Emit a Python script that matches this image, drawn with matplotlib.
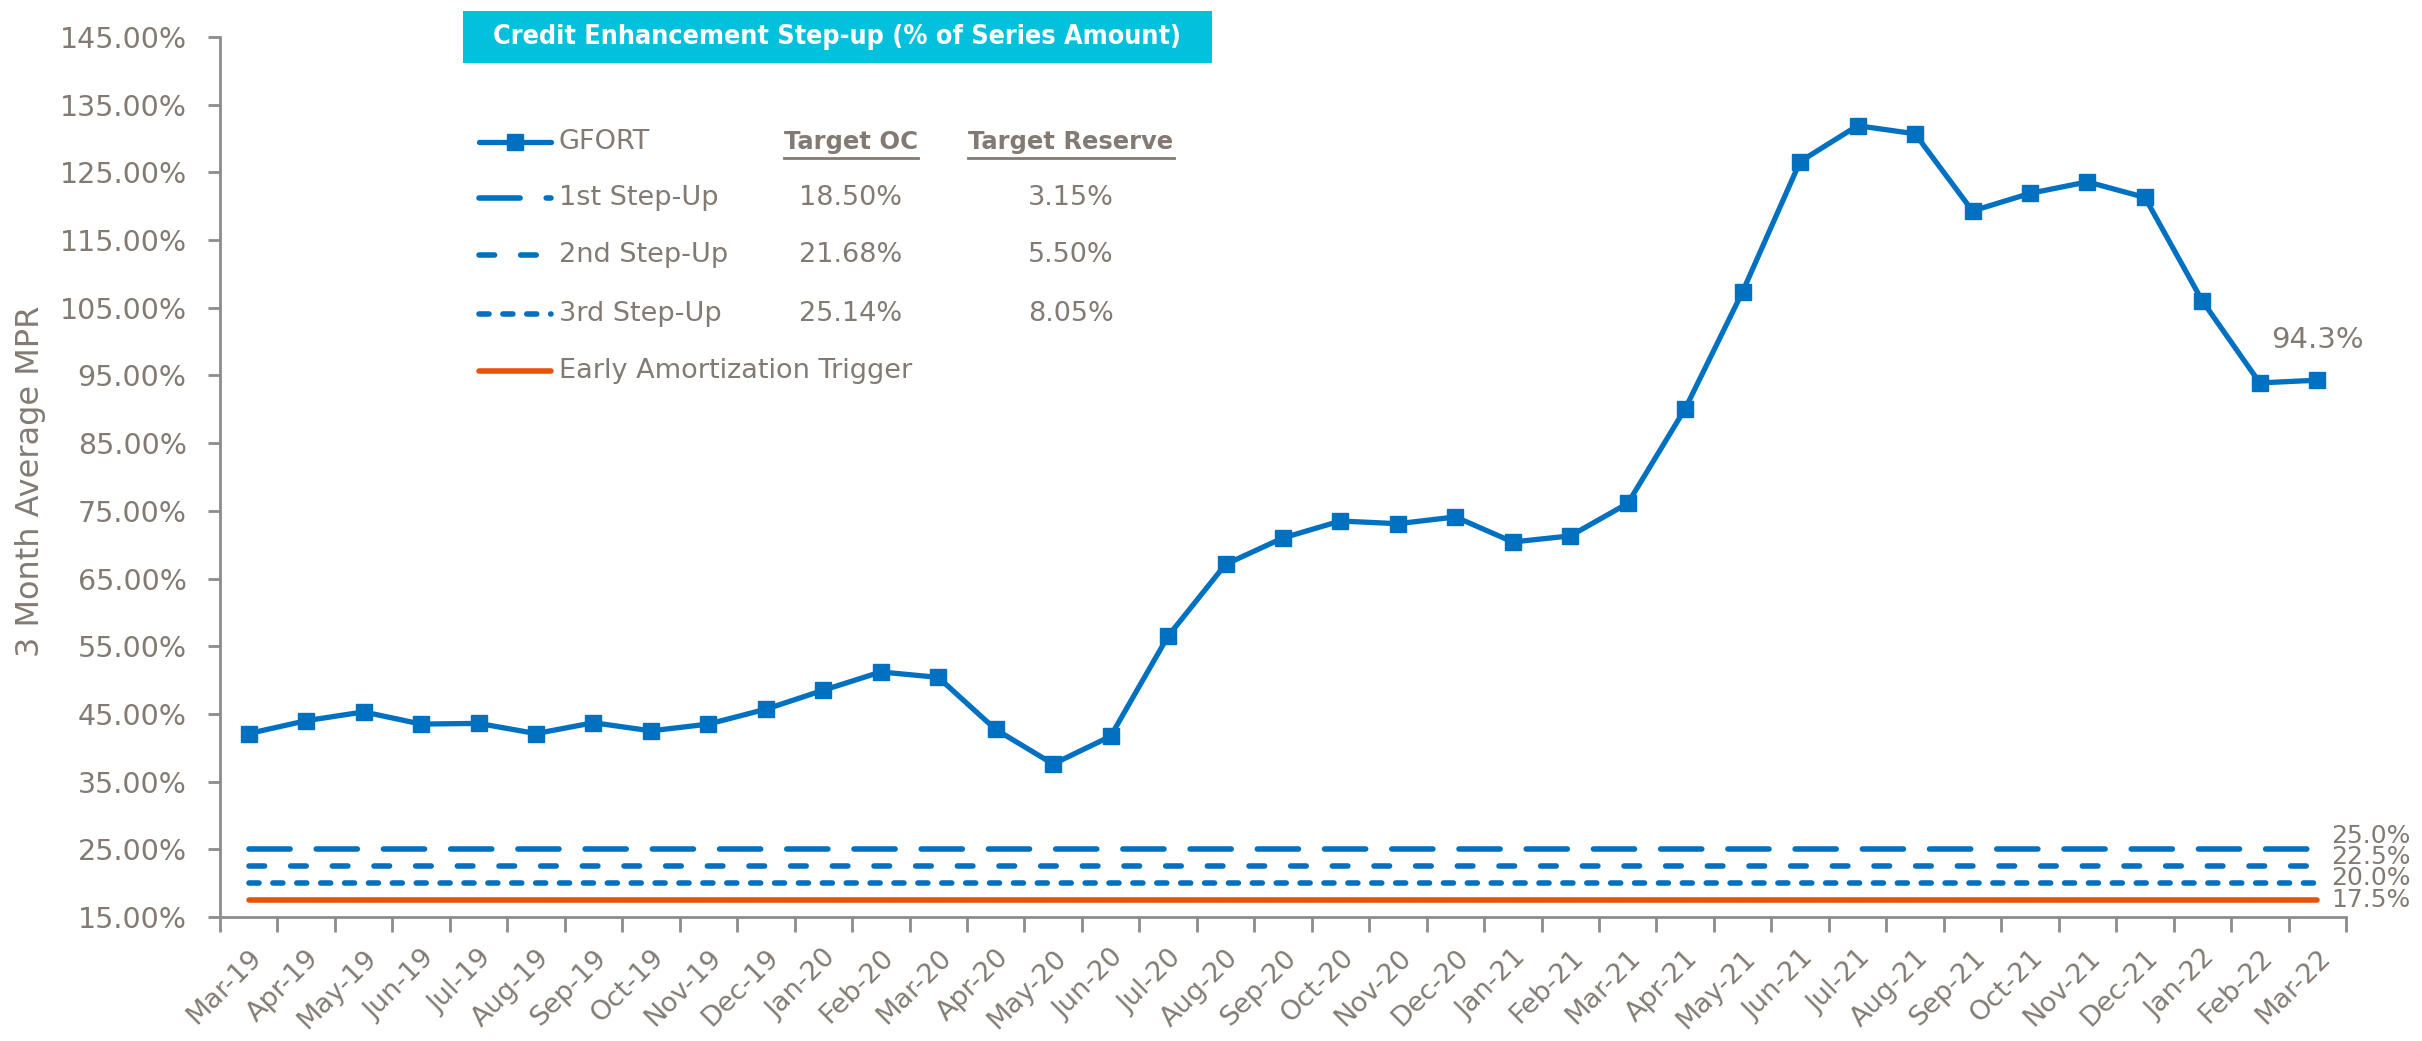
import matplotlib
matplotlib.use("Agg")
import matplotlib.pyplot as plt
from matplotlib import font_manager as fm
from matplotlib.lines import Line2D
from matplotlib.patches import Rectangle
from matplotlib.ticker import FixedLocator, NullFormatter, FuncFormatter

# ---- data -------------------------------------------------------------
months = ["Mar-19", "Apr-19", "May-19", "Jun-19", "Jul-19", "Aug-19", "Sep-19",
          "Oct-19", "Nov-19", "Dec-19", "Jan-20", "Feb-20", "Mar-20", "Apr-20",
          "May-20", "Jun-20", "Jul-20", "Aug-20", "Sep-20", "Oct-20", "Nov-20",
          "Dec-20", "Jan-21", "Feb-21", "Mar-21", "Apr-21", "May-21", "Jun-21",
          "Jul-21", "Aug-21", "Sep-21", "Oct-21", "Nov-21", "Dec-21", "Jan-22",
          "Feb-22", "Mar-22"]
gfort_mpr = [42.1, 44.0, 45.3, 43.5, 43.6, 42.1, 43.7, 42.5, 43.5, 45.7,
             48.5, 51.2, 50.4, 42.7, 37.6, 41.7, 56.5, 67.1, 71.0, 73.5,
             73.1, 74.1, 70.4, 71.3, 76.1, 90.1, 107.4, 126.6, 131.9, 130.7,
             119.3, 121.9, 123.6, 121.3, 106.0, 93.9, 94.3]
step_up_levels = [25.0, 22.5, 20.0]          # 1st, 2nd, 3rd step-up
early_amort_trigger = 17.5
last_label = "94.3%"

legend_names = ["GFORT", "1st Step-Up", "2nd Step-Up", "3rd Step-Up",
                "Early Amortization Trigger"]
target_oc = ["18.50%", "21.68%", "25.14%"]
target_reserve = ["3.15%", "5.50%", "8.05%"]
title_text = "Credit Enhancement Step-up (% of Series Amount)"
y_label = "3 Month Average MPR"
y_ticks = list(range(15, 146, 10))

# ---- style ------------------------------------------------------------
W, H = 2422, 1041
BLUE = "#0070C0"
ORANGE = "#E5540A"
CYAN = "#03C1DD"
GREY_TXT = "#837B73"
GREY_AX = "#8C8C8C"
REG = ["DejaVu Sans"]

# pick a condensed face for the banner if one is installed
_cond = [f for f in fm.fontManager.ttflist
         if f.stretch in ("condensed", "semi-condensed", "extra-condensed")
         or "Condensed" in f.name or "Narrow" in f.name]
if _cond:
    TITLE_FONT = dict(family=[_cond[0].name, "DejaVu Sans"],
                      fontstretch=_cond[0].stretch)
else:
    TITLE_FONT = dict(family=["Roboto", "DejaVu Sans"])

LW = 4.0
dash_styles = [(0, (7.4, 4.7)), (0, (2.8, 4.7)), (0, (1.8, 2.5))]
level_label_lift = [13, 9, 5]   # pixels, keeps the stacked labels readable


def fx(px):
    return px / W


def fy(py):
    return 1 - py / H


fig = plt.figure(figsize=(W / 100, H / 100), dpi=100)
ax = fig.add_axes([fx(220), fy(917), fx(2346) - fx(220), fy(37) - fy(917)])

x = list(range(len(months)))

# reference levels
for lvl, ls, lift in zip(step_up_levels, dash_styles, level_label_lift):
    ax.plot([x[0], x[-1]], [lvl, lvl], color=BLUE, lw=LW, ls=ls,
            dash_capstyle="round", solid_capstyle="round", zorder=2)
    ax.annotate(f"{lvl:.1f}%", xy=(x[-1], lvl), xytext=(14, lift),
                textcoords="offset pixels", va="center", ha="left",
                fontsize=18, color=GREY_TXT, family=REG, annotation_clip=False)
ax.plot([x[0], x[-1]], [early_amort_trigger] * 2, color=ORANGE, lw=LW,
        solid_capstyle="round", zorder=2)
ax.annotate(f"{early_amort_trigger:.1f}%", xy=(x[-1], early_amort_trigger),
            xytext=(14, 0), textcoords="offset pixels", va="center", ha="left",
            fontsize=18, color=GREY_TXT, family=REG, annotation_clip=False)

# GFORT series
ax.plot(x, gfort_mpr, color=BLUE, lw=3.8, marker="s", ms=12,
        mec=BLUE, mfc=BLUE, zorder=3)
ax.annotate(last_label, xy=(x[-1], gfort_mpr[-1]), xytext=(0, 40),
            textcoords="offset pixels", ha="center", va="center",
            fontsize=21, color=GREY_TXT, family=REG)

# axes
ax.set_xlim(-0.5, len(months) - 0.5)
ax.set_ylim(15, 145)
ax.xaxis.set_major_locator(FixedLocator([i - 0.5 for i in range(len(months) + 1)]))
ax.xaxis.set_major_formatter(NullFormatter())
ax.xaxis.set_minor_locator(FixedLocator(x))
ax.set_xticklabels(months, minor=True, rotation=45, ha="right", va="top",
                   rotation_mode="anchor", fontsize=19.5, color=GREY_TXT,
                   family=REG)
ax.tick_params(axis="x", which="major", length=11, width=2, color=GREY_AX,
               direction="out")
ax.tick_params(axis="x", which="minor", length=0, pad=20)
ax.yaxis.set_major_locator(FixedLocator(y_ticks))
ax.yaxis.set_major_formatter(FuncFormatter(lambda v, p: f"{v:.2f}%"))
ax.tick_params(axis="y", length=9, width=2, color=GREY_AX, labelsize=20.5,
               labelcolor=GREY_TXT, pad=15)
for lab in ax.get_yticklabels():
    lab.set_family(REG)
for s in ("top", "right"):
    ax.spines[s].set_visible(False)
for s in ("left", "bottom"):
    ax.spines[s].set_color(GREY_AX)
    ax.spines[s].set_linewidth(2)

fig.text(fx(31), fy(481), y_label, rotation=90, ha="center", va="center",
         fontsize=23, color=GREY_TXT, family=REG)

# title banner
fig.add_artist(Rectangle((fx(463), fy(63)), fx(1212) - fx(463), fy(11) - fy(63),
                         transform=fig.transFigure, facecolor=CYAN,
                         edgecolor="none"))
title = fig.text(fx(837), fy(37), title_text, ha="center", va="center",
                 fontsize=20, fontweight="bold", color="white", **TITLE_FONT)

# legend table
rows_y = [142, 198, 255, 314, 371]
x0, x1 = 479, 551
samples = [dict(ls="-", marker="s", ms=12, lw=3.8, color=BLUE),
           dict(ls=dash_styles[0], lw=LW, color=BLUE),
           dict(ls=dash_styles[1], lw=LW, color=BLUE),
           dict(ls=dash_styles[2], lw=LW, color=BLUE),
           dict(ls="-", lw=LW, color=ORANGE)]
for yy, name, st in zip(rows_y, legend_names, samples):
    marker = st.pop("marker", None)
    ms = st.pop("ms", None)
    fig.add_artist(Line2D([fx(x0), fx(x1)], [fy(yy), fy(yy)],
                          transform=fig.transFigure, dash_capstyle="round",
                          solid_capstyle="round", **st))
    if marker:
        fig.add_artist(Line2D([fx((x0 + x1) / 2)], [fy(yy)],
                              transform=fig.transFigure, marker=marker, ms=ms,
                              color=BLUE, ls="none"))
    fig.text(fx(559), fy(yy), name, ha="left", va="center", fontsize=19.5,
             color=GREY_TXT, family=REG)

col_oc, col_res = 851, 1071
headers = []
for cx, head in ((col_oc, "Target OC"), (col_res, "Target Reserve")):
    headers.append(fig.text(fx(cx), fy(rows_y[0]), head, ha="center",
                            va="center", fontsize=17.5, fontweight="bold",
                            color=GREY_TXT, family=REG))
for yy, oc, res in zip(rows_y[1:4], target_oc, target_reserve):
    fig.text(fx(col_oc), fy(yy), oc, ha="center", va="center", fontsize=19.5,
             color=GREY_TXT, family=REG)
    fig.text(fx(col_res), fy(yy), res, ha="center", va="center", fontsize=19.5,
             color=GREY_TXT, family=REG)

fig.canvas.draw()
r = fig.canvas.get_renderer()

# fit the banner text to the banner width
tw = title.get_window_extent(r).width
title.set_fontsize(20 * 688 / tw)

# underline the column headers to the width of their text
for t in headers:
    bb = t.get_window_extent(r)
    fig.add_artist(Line2D([bb.x0 / W, bb.x1 / W], [fy(rows_y[0] + 16)] * 2,
                          transform=fig.transFigure, color=GREY_TXT, lw=2))

fig.savefig("out.png", dpi=100)
